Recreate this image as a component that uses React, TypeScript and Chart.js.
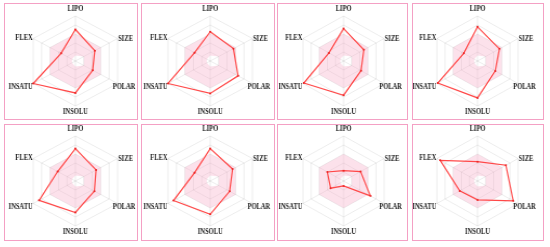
import React, { useEffect, useRef } from "react";
import Chart from "chart.js/auto";

const axisLabels = ["LIPO", "SIZE", "POLAR", "INSOLU", "INSATU", "FLEX"];

const compound1 = [0.7, 0.46, 0.41, 0.71, 1.0, 0.34];
const compound2 = [0.65, 0.55, 0.66, 0.72, 1.0, 0.37];
const compound3 = [0.72, 0.5, 0.43, 0.76, 0.98, 0.36];
const compound4 = [0.76, 0.54, 0.44, 0.82, 0.98, 0.34];
const compound5 = [0.72, 0.49, 0.45, 0.7, 0.86, 0.42];
const compound6 = [0.72, 0.53, 0.46, 0.74, 0.87, 0.37];
const compound7 = [0.23, 0.42, 0.66, 0.11, 0.32, 0.4];
const compound8 = [0.43, 0.7, 0.88, 0.42, 0.44, 0.92];

const compounds = [
  compound1, compound2, compound3, compound4,
  compound5, compound6, compound7, compound8,
];

const optimalUpper = [0.6, 0.6, 0.6, 0.6, 0.6, 0.6];
const optimalLower = [0.12, 0.2, 0.2, 0.12, 0.08, 0.08];

// panel geometry
const panelLefts = [4, 141, 277, 412];
const panelWidths = [134, 134, 131, 132];
const panelTops = [3, 123.5];
const panelH = 117;
const BORDER = 1.5;
// the original figure is slightly stretched horizontally (per column)
const stretches = [1.08, 1.08, 1.04, 1.04];
// radar centre inside each panel (display px)
const centerXs = [70.5, 68.5, 65.8, 65];
const centerYs = [57.8, 56.2];
const RADIUS = 45.5;
const FONT_SIZE = 7.5;
const TEXT_SCALE = 0.86;

// offsets (display px) of each axis label from its outer vertex: [dx, dy, align]
const labelPlacement: [number, number, CanvasTextAlign][] = [
  [0, -6.5, "center"],
  [0.6, 0.3, "left"],
  [-4.8, 4, "left"],
  [0, 6.5, "center"],
  [-0.6, 4, "right"],
  [-0.6, -0.3, "right"],
];

function makeLabelPlugin(stretch: number) {
  return {
    id: "axisLabels",
    afterDraw(chart: any) {
      const scale = chart.scales.r;
      const ctx = chart.ctx;
      ctx.save();
      ctx.font = `bold ${FONT_SIZE}px 'Liberation Serif', serif`;
      ctx.fillStyle = "#161616";
      ctx.textBaseline = "middle";
      axisLabels.forEach((lab, i) => {
        const p = scale.getPointPosition(i, scale.drawingArea);
        const [dx, dy, al] = labelPlacement[i];
        ctx.save();
        ctx.translate(p.x + dx / stretch, p.y + dy);
        ctx.scale(TEXT_SCALE / stretch, 1);
        ctx.textAlign = al;
        ctx.fillText(lab, 0, 0);
        ctx.restore();
      });
      ctx.restore();
    },
  };
}

function RadarPanel({ values, w, h, cx, cy, stretch }: { values: number[]; w: number; h: number; cx: number; cy: number; stretch: number }) {
  const ref = useRef<HTMLCanvasElement | null>(null);
  const wi = Math.round(w / stretch);
  useEffect(() => {
    if (!ref.current) return;
    const size = RADIUS * 2 + 0.5;
    const cxi = (cx * wi) / w;
    const left = cxi - size / 2;
    const top = cy - size / 2;
    const chart = new Chart(ref.current, {
      type: "radar",
      data: {
        labels: axisLabels,
        datasets: [
          {
            data: values,
            borderColor: "rgb(255,72,72)",
            backgroundColor: "rgb(255,72,72)",
            borderWidth: 1.2,
            pointRadius: 1,
            pointBorderWidth: 0,
            pointBackgroundColor: "rgb(235,40,40)",
            fill: false,
            tension: 0,
            clip: false,
          },
          {
            data: optimalUpper,
            borderWidth: 0,
            borderColor: "rgba(0,0,0,0)",
            pointRadius: 0,
            backgroundColor: "rgba(245,165,195,0.33)",
            fill: "+1",
          },
          {
            data: optimalLower,
            borderWidth: 0,
            borderColor: "rgba(0,0,0,0)",
            pointRadius: 0,
            fill: false,
          },
        ],
      },
      options: {
        animation: false,
        responsive: false,
        maintainAspectRatio: false,
        layout: {
          padding: { left, top, right: wi - left - size, bottom: h - top - size },
        },
        plugins: { legend: { display: false }, tooltip: { enabled: false } },
        scales: {
          r: {
            min: 0,
            max: 1,
            ticks: { display: false, stepSize: 0.2 },
            grid: { color: "rgba(0,0,0,0.08)", lineWidth: 1 },
            angleLines: { color: "rgba(0,0,0,0.08)", lineWidth: 1 },
            pointLabels: { display: false },
          },
        },
      },
      plugins: [makeLabelPlugin(stretch)],
    });
    return () => chart.destroy();
  }, [values, w, h, cx, cy, wi, stretch]);
  return (
    <canvas ref={ref} width={wi} height={h} style={{ display: "block", width: w, height: h }} />
  );
}

export default function App() {
  return (
    <div style={{ position: "fixed", left: 0, top: 0, width: 550, height: 247, background: "#fff" }}>
      {compounds.map((vals, i) => {
        const col = i % 4;
        const row = Math.floor(i / 4);
        const w = panelWidths[col];
        return (
          <div
            key={i}
            style={{
              position: "absolute",
              left: panelLefts[col],
              top: panelTops[row],
              width: w,
              height: panelH,
              boxSizing: "border-box",
              border: `${BORDER}px solid rgb(244,160,196)`,
              overflow: "hidden",
            }}
          >
            <RadarPanel
              values={vals}
              w={w - 2 * BORDER}
              h={panelH - 2 * BORDER}
              cx={centerXs[col]}
              cy={centerYs[row]}
              stretch={stretches[col]}
            />
          </div>
        );
      })}
    </div>
  );
}
